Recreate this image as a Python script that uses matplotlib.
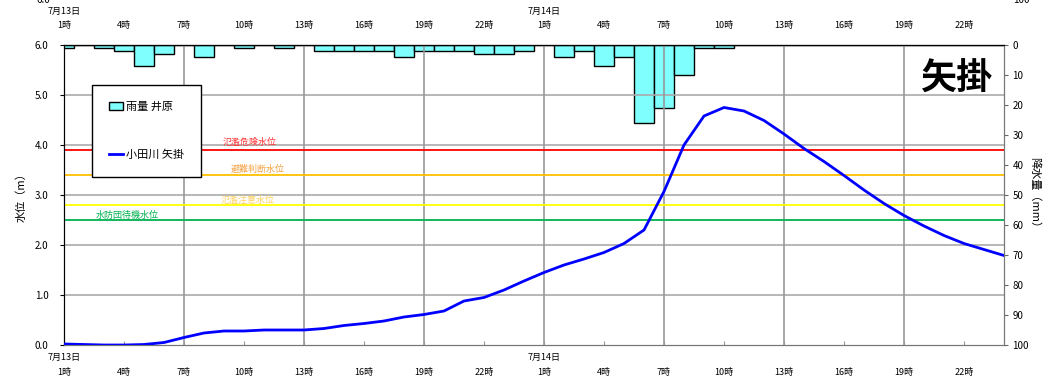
import matplotlib
matplotlib.use("Agg")
import matplotlib.pyplot as plt
from matplotlib.patches import Patch
from matplotlib.lines import Line2D

plt.rcParams['font.family'] = ['Noto Sans CJK JP', 'DejaVu Sans']

# ---- data ----
hours = list(range(48))  # hours since 7/13 1時
rain_mm = [1, 0, 1, 2, 7, 3, 0, 4, 0, 1, 0, 1, 0, 2, 2, 2, 2, 4, 2, 2, 2, 3, 3, 2,
           0, 4, 2, 7, 4, 26, 21, 10, 1, 1, 0, 0, 0, 0, 0, 0, 0, 0, 0, 0, 0, 0, 0, 0]
level_m = [0.02, 0.01, 0.0, 0.0, 0.01, 0.05, 0.15, 0.24, 0.28, 0.28, 0.30, 0.30,
           0.30, 0.33, 0.39, 0.43, 0.48, 0.56, 0.61, 0.68, 0.88, 0.95, 1.10, 1.28,
           1.45, 1.60, 1.72, 1.85, 2.03, 2.30, 3.07, 4.00, 4.58, 4.75, 4.68, 4.49,
           4.22, 3.93, 3.67, 3.39, 3.10, 2.83, 2.59, 2.38, 2.19, 2.03, 1.91, 1.79]
tick_hours = list(range(0, 48, 3))
tick_labels = ["1時", "4時", "7時", "10時", "13時", "16時", "19時", "22時"] * 2
date_labels = {0: "7月13日", 24: "7月14日"}
thresholds = [
    ("氾濫危険水位", 3.9, "#FF0000", "#FF3333", 9.3, 4.06),
    ("避難判断水位", 3.4, "#FFC000", "#F5A040", 9.7, 3.52),
    ("氾濫注意水位", 2.8, "#FFFF00", "#FFD060", 9.2, 2.90),
    ("水防団待機水位", 2.5, "#00B050", "#00B050", 3.15, 2.60),
]
station = "矢掛"
rain_label = "雨量 井原"
level_label = "小田川 矢掛"

fig = plt.figure(figsize=(10.44, 3.8), dpi=100)
ax = fig.add_axes([64/1044, 1-345/380, 940/1044, 300/380])
ax2 = ax.twinx()

# rain bars on secondary (inverted) axis, behind main axis
ax2.bar(hours, rain_mm, width=1.0, color="#80FFFF", edgecolor="black", linewidth=1.0, zorder=2)
ax2.set_ylim(100, 0)
ax2.set_yticks(range(0, 101, 10))
ax2.tick_params(axis='y', labelsize=7, length=3, pad=3, color='#666666')
ax2.set_ylabel("降水量（mm）", fontsize=8, rotation=-90, labelpad=8)

ax.set_zorder(ax2.get_zorder() + 1)
ax.patch.set_visible(False)

ax.set_xlim(0, 47)
ax.set_ylim(0, 6)
ax.set_yticks([0, 1, 2, 3, 4, 5, 6])
ax.set_yticklabels([f"{v:.1f}" for v in range(7)])
ax.tick_params(axis='y', labelsize=7, length=3, pad=8)
ax.set_ylabel("水位（m）", fontsize=8, labelpad=6)

# grid
for v in [1, 2, 3, 4, 5]:
    ax.axhline(v, color="#AAAAAA", lw=1.2, zorder=1)
for h in range(6, 47, 6):
    ax.axvline(h, color="#999999", lw=1.2, zorder=1)

# thresholds
for name, val, lc, tc, tx, ty in thresholds:
    ax.axhline(val, color=lc, lw=1.3, zorder=2)
    ax.text(tx, ty, name, color=tc, fontsize=6.5, ha='center', va='center', zorder=3)

ax.plot(hours, level_m, color="#0000FF", lw=2, zorder=5)

# x ticks bottom
labels_bottom = []
for h, lab in zip(tick_hours, tick_labels):
    labels_bottom.append(f"{date_labels[h]}\n{lab}" if h in date_labels else f"\n{lab}")
ax.set_xticks(tick_hours)
ax.set_xticklabels(labels_bottom, fontsize=6.5, linespacing=1.75)
ax.tick_params(axis='x', direction='in', length=3, color='#999999', pad=6)

# top axis
axt = ax.secondary_xaxis('top')
axt.set_xticks(tick_hours)
labels_top = [f"{date_labels[h]}\n{lab}" if h in date_labels else lab
              for h, lab in zip(tick_hours, tick_labels)]
axt.set_xticklabels(labels_top, fontsize=6.5, linespacing=1.75)
axt.tick_params(axis='x', length=0, pad=11)

for sp in ['top', 'left']:
    ax.spines[sp].set_color('black')
for sp in ['bottom', 'right']:
    ax.spines[sp].set_color('#777777')
    ax2.spines[sp].set_color('#777777')
axt.spines['top'].set_color('black')

# legend
handles = [Patch(facecolor="#80FFFF", edgecolor="black", label=rain_label),
           Line2D([0], [0], color="#0000FF", lw=2, label=level_label)]
leg = ax.legend(handles=handles, loc='upper left', bbox_to_anchor=(28/940, 260/300),
                fontsize=8, labelspacing=3.4, handlelength=1.3, handletextpad=0.25,
                borderpad=1.5, fancybox=False, framealpha=1, edgecolor='black',
                borderaxespad=0)
leg.get_frame().set_linewidth(1.0)

ax.text(0.988, 0.885, station, transform=ax.transAxes, fontsize=26, fontweight='bold',
        ha='right', va='center', zorder=6)

# fragments of the chart above (cut off)
fig.text(50/1044, 1.0, "6.0", fontsize=7, ha='right', va='center')
fig.text(1013/1044, 1.0, "100", fontsize=7, ha='left', va='center')

fig.savefig("out.png", dpi=100)
